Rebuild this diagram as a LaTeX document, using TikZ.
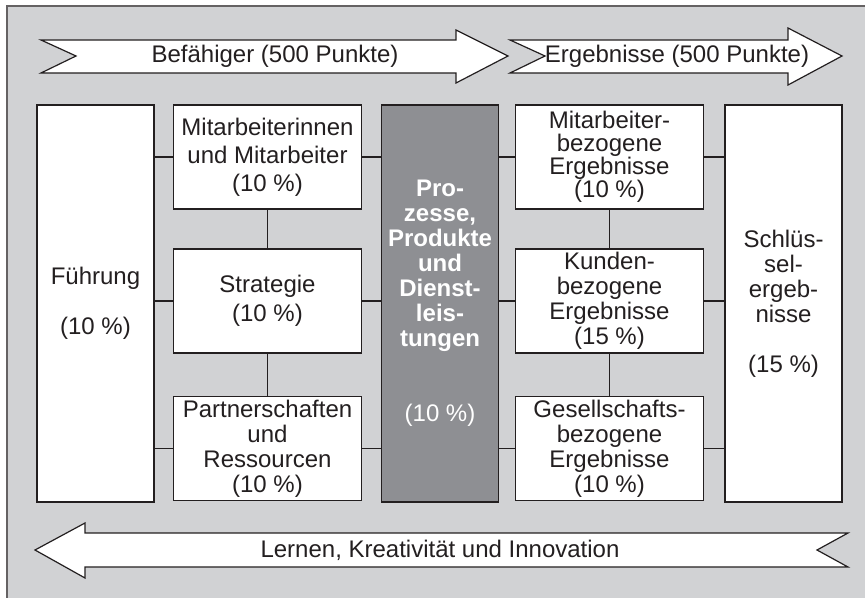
\documentclass[tikz,border=0pt]{standalone}
\usepackage{fontspec}
\setmainfont{Liberation Sans}

\definecolor{bggray}{RGB}{209,210,212}
\definecolor{procgray}{RGB}{142,143,147}
\definecolor{inkgray}{RGB}{35,31,32}

\begin{document}
\begin{tikzpicture}[x=0.5pt,y=-0.5pt,
    box/.style={draw=inkgray, line width=0.6pt, fill=white, align=center, inner sep=0pt,
        text=inkgray, font=\fontsize{12}{12.5}\selectfont},
    widebox/.style={box, minimum width=94pt, minimum height=52pt},
    tallbox/.style={box, minimum width=58.5pt, minimum height=198.5pt},
    link/.style={draw=inkgray, line width=0.6pt},
    bigarrow/.style={draw=inkgray, line width=0.6pt, fill=white},
    arrowtext/.style={text=inkgray, font=\fontsize{12}{12.5}\selectfont}]
    \useasboundingbox (0,0) rectangle (865,598);
    \draw[fill=bggray, draw=inkgray!70, line width=0.6pt] (7,6) rectangle (880,610);

    % arrows on top and bottom
    \draw[bigarrow] (41,40) -- (456,40) -- (456,30) -- (508,56) -- (456,83) -- (456,73) -- (41,73) -- (76,56) -- cycle;
    \draw[bigarrow] (510,40) -- (788,40) -- (788,28) -- (842,56) -- (788,85) -- (788,73) -- (510,73) -- (545,56) -- cycle;
    \draw[bigarrow] (35,550) -- (85,523) -- (85,533) -- (848,533) -- (817,550) -- (848,567) -- (85,567) -- (85,578) -- cycle;
    \node[arrowtext] (befaehiger) at (275,56) {Befähiger (500 Punkte)};
    \node[arrowtext] (ergebnisse) at (677,56) {Ergebnisse (500 Punkte)};
    \node[arrowtext] (lernen) at (440,550) {Lernen, Kreativität und Innovation};

    % boxes
    \node[tallbox] (fuehrung) at (95.5,303.5) {Führung\\[12.5pt](10~\%)};
    \node[widebox, font=\fontsize{12}{14}\selectfont] (mitarb) at (267.5,157) {Mitarbeiterinnen\\und Mitarbeiter\\(10~\%)};
    \node[widebox, font=\fontsize{12}{14.5}\selectfont] (strat) at (267.5,301) {Strategie\\(10~\%)};
    \node[widebox] (partner) at (267.5,448.5) {Partnerschaften\\und\\Ressourcen\\(10~\%)};
    \node[tallbox, fill=procgray, text=white, font=\fontsize{12}{12.5}\selectfont\bfseries] (prozesse) at (440,303.5)
        {Pro-\\zesse,\\Produkte\\und\\Dienst-\\leis-\\tungen\\[25pt]{\mdseries(10~\%)}};
    \node[widebox, font=\fontsize{12}{11.5}\selectfont] (mabez) at (609.5,157) {Mitarbeiter-\\bezogene\\Ergebnisse\\(10~\%)};
    \node[widebox] (kunden) at (609.5,301) {Kunden-\\bezogene\\Ergebnisse\\(15~\%)};
    \node[widebox] (gesell) at (609.5,448.5) {Gesellschafts-\\bezogene\\Ergebnisse\\(10~\%)};
    \node[tallbox] (schluessel) at (783.5,303.5) {Schlüs-\\sel-\\ergeb-\\nisse\\[12.5pt](15~\%)};

    % connectors
    \foreach \b in {mitarb,strat,partner}{
        \draw[link] (\b.west -| fuehrung.east) -- (\b.west);
        \draw[link] (\b.east) -- (\b.east -| prozesse.west);
    }
    \foreach \b in {mabez,kunden,gesell}{
        \draw[link] (\b.west -| prozesse.east) -- (\b.west);
        \draw[link] (\b.east) -- (\b.east -| schluessel.west);
    }
    \draw[link] (mitarb.south) -- (strat.north);
    \draw[link] (strat.south) -- (partner.north);
    \draw[link] (mabez.south) -- (kunden.north);
    \draw[link] (kunden.south) -- (gesell.north);
\end{tikzpicture}
\end{document}
